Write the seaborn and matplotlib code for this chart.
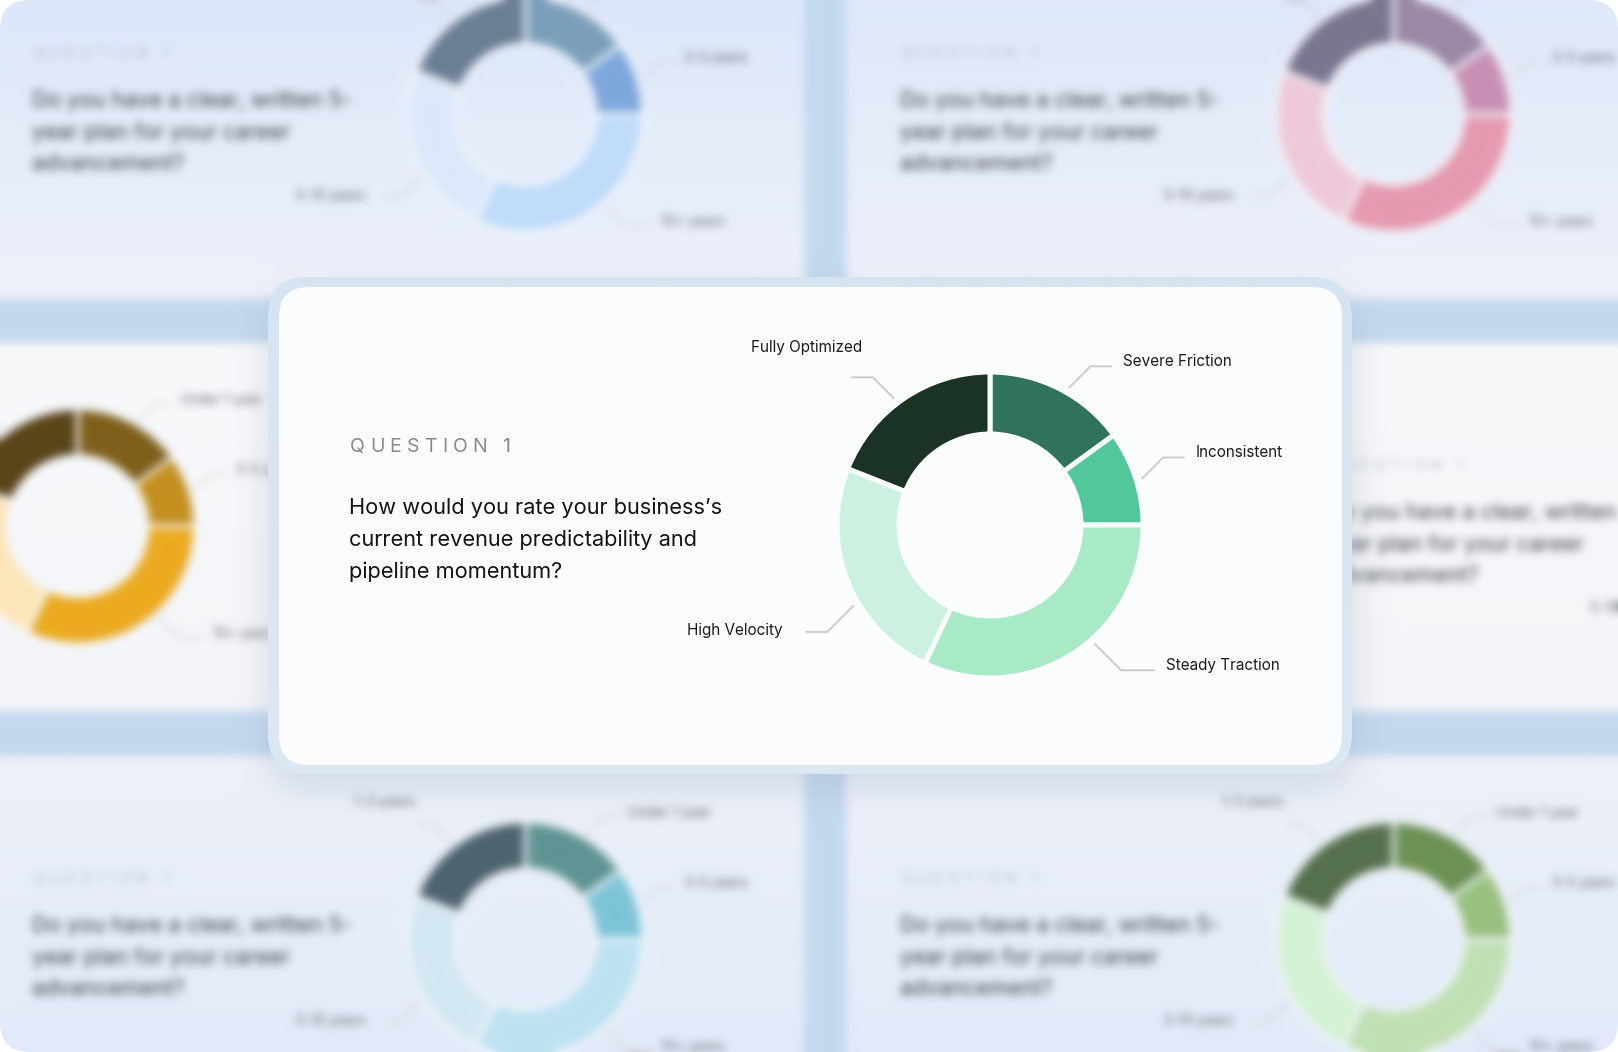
import numpy as np
import matplotlib
matplotlib.use("Agg")
import matplotlib.pyplot as plt
from matplotlib.patches import FancyBboxPatch
import seaborn as sns

W, H = 1618, 1052

# front card
segments = ["Severe Friction", "Inconsistent", "Steady Traction", "High Velocity", "Fully Optimized"]
shares = [15, 10, 32, 24, 19]
greens = ["#31735a", "#52c79a", "#a8eac5", "#ccf1e0", "#1a3324"]
tag = "QUESTION 1"
question = ["How would you rate your business\u2019s",
            "current revenue predictability and",
            "pipeline momentum?"]

# blurred cards behind it
tile_segments = ["Under 1 year", "3-5 years", "10+ years", "5-10 years", "1-3 years"]
tile_shares = [15, 10, 32, 24, 19]
tile_question = ["Do you have a clear, written 5-", "year plan for your career", "advancement?"]
blues = ["#7b9fbb", "#7ea7dc", "#c0dcf9", "#dce9fa", "#6a7f95"]
pinks = ["#9b88a6", "#c88fb5", "#e59ab0", "#eec9d9", "#7a7590"]
golds = ["#7f5f1a", "#c48f1e", "#ebaa20", "#fde6b8", "#5a4418"]
teals = ["#5f9494", "#7ec4d8", "#bde2f2", "#d3e8f3", "#4d6370"]
sages = ["#6c9155", "#98c07f", "#c0e0b5", "#d4f2d4", "#55704d"]

sns.set_theme(style="white")
plt.rcParams["font.family"] = ["Inter", "DejaVu Sans"]

CARD_W, CARD_H = 1063, 478
nudge = [-3, -1, 9, 9, 3]   # small shifts of leader anchors (deg)


def fy(y):
    return H - y


def blur(a, sigma):
    r = int(3 * sigma)
    k = np.exp(-np.arange(-r, r + 1) ** 2 / (2.0 * sigma ** 2))
    k /= k.sum()
    pw = [(r, r), (r, r)] + [(0, 0)] * (a.ndim - 2)
    p = np.pad(a, pw, mode="edge")
    h = sum(k[i] * p[:, i:i + a.shape[1]] for i in range(2 * r + 1))
    return sum(k[i] * h[i:i + a.shape[0]] for i in range(2 * r + 1))


def round_mask(x0, y0, x1, y1, r):
    yy, xx = np.mgrid[0:H, 0:W]
    dx = np.maximum(np.maximum(x0 + r - xx, xx - (x1 - r)), 0)
    dy = np.maximum(np.maximum(y0 + r - yy, yy - (y1 - r)), 0)
    inside = (xx >= x0) & (xx <= x1) & (yy >= y0) & (yy <= y1)
    return (inside & (dx ** 2 + dy ** 2 <= r ** 2)).astype(float)


def spaced_text(ax, x, y, s, size, color, track):
    rend = ax.figure.canvas.get_renderer()
    for ch in s:
        if ch == " ":
            x += size * 0.35 + track
            continue
        t = ax.text(x, fy(y), ch, fontsize=size, color=color, va="center", ha="left", zorder=3)
        x += t.get_window_extent(renderer=rend).width + track


def gradient_box(ax, x, y, w, h, top, bottom, rad, z=0.5):
    patch = FancyBboxPatch((x, fy(y + h)), w, h, boxstyle=f"round,pad=0,rounding_size={rad}",
                           fc="none", ec="none", zorder=z)
    ax.add_patch(patch)
    grad = np.array(sns.blend_palette([top, bottom], n_colors=64))[:, None, :]
    im = ax.imshow(grad, extent=(x, x + w, fy(y + h), fy(y)), aspect="auto",
                   interpolation="bilinear", zorder=z)
    im.set_clip_path(patch)


def draw_card(ax, ox, oy, s, values, colors, labels, lines, qcol, tcol, lcol, gap,
              qsize, qstep, lsize, tsize, track):
    spaced_text(ax, ox + 71 * s, oy + 160 * s, tag, tsize * s, tcol, track * s)
    for i, line in enumerate(lines):
        ax.text(ox + 70 * s, fy(oy + 221 * s + qstep * i * s), line, fontsize=qsize * s,
                color=qcol, va="center", ha="left", zorder=3)
    cx, cy = ox + 711 * s, fy(oy + 238 * s)
    R = 153 * s
    wedges, _ = ax.pie(values, colors=colors, radius=R, center=(cx, cy), startangle=90,
                       counterclock=False, frame=True,
                       wedgeprops=dict(width=62 * s, edgecolor=gap, linewidth=3.6 * s, zorder=3))
    for w, lab, dn in zip(wedges, labels, nudge):
        ang = np.deg2rad((w.theta1 + w.theta2) / 2 + dn)
        c, sn = np.cos(ang), np.sin(ang)
        x0, y0 = cx + (R + 6 * s) * c, cy + (R + 6 * s) * sn
        sx, sy = np.sign(c), np.sign(sn)
        diag = 21 if sy > 0 else 26
        run = 33 if (sx > 0 and sy < 0) else 21
        x1, y1 = x0 + diag * s * sx, y0 + diag * s * sy
        x2 = x1 + run * s * sx
        ax.plot([x0, x1, x2], [y0, y1, y1], color="#c9cbcd", lw=1.4 * s,
                solid_joinstyle="miter", zorder=3)
        if sx < 0 and sy > 0:
            ax.text(x2 - 45 * s, y1 + 30 * s, lab, fontsize=lsize * s, color=lcol,
                    ha="center", va="center", zorder=3)
        elif sx > 0:
            ax.text(x2 + 12 * s, y1 + 5 * s, lab, fontsize=lsize * s, color=lcol,
                    ha="left", va="center", zorder=3)
        else:
            ax.text(x2 - 24 * s, y1 + 1 * s, lab, fontsize=lsize * s, color=lcol,
                    ha="right", va="center", zorder=3)


def full_axes(fig):
    ax = fig.add_axes([0, 0, 1, 1])
    ax.set_axis_off()
    return ax


# ---- background layer, blurred afterwards ----
fig_bg = plt.figure(figsize=(W / 100, H / 100), dpi=100, facecolor="#c3d9ee")
axb = full_axes(fig_bg)
ts = 0.77
tw, th = CARD_W * ts + 8, CARD_H * ts
tiles = [
    (-22, -69, blues, "#dae5fb", "#eef2fa"),
    (846, -69, pinks, "#dce6fb", "#eef2fa"),
    (-470, 343, golds, "#f8fafc", "#f4f6f9"),
    (401, 343, blues, "#f8fafc", "#f4f6f9"),
    (1272, 343, teals, "#f8fafc", "#f4f6f9"),
    (-22, 756, teals, "#eef2f9", "#e0e9fb"),
    (846, 756, sages, "#eef2f9", "#e0e9fb"),
]
for ox, oy, pal, top, bottom in tiles:
    gradient_box(axb, ox, oy, tw, th, top, bottom, 26)
    draw_card(axb, ox, oy, ts, tile_shares, sns.color_palette(pal), tile_segments,
              tile_question, "#30343c", "#b4b9c2", "#555962", "#f4f7fc",
              20.5, 41, 13, 14, 7)
axb.set_xlim(0, W)
axb.set_ylim(0, H)
fig_bg.canvas.draw()
img = np.asarray(fig_bg.canvas.buffer_rgba())[:, :, :3].astype(float) / 255.0
plt.close(fig_bg)

img = blur(img, 4.5)
shadow = blur(round_mask(262, 290, 1358, 792, 40), 16)[..., None]
img = img * (1 - 0.22 * shadow) + 0.22 * shadow * np.array([0.55, 0.6, 0.68])

# ---- final figure ----
fig = plt.figure(figsize=(W / 100, H / 100), dpi=100, facecolor="white")
ax = full_axes(fig)
frame = FancyBboxPatch((0, 0), W, H, boxstyle="round,pad=0,rounding_size=30",
                       fc="none", ec="none")
ax.add_patch(frame)
bg = ax.imshow(np.clip(img, 0, 1), extent=(0, W, 0, H), aspect="auto", zorder=0)
bg.set_clip_path(frame)

# front card
gradient_box(ax, 268, 277, 1084, 497, "#d6e4f1", "#dce8f3", 40, z=1)
ax.add_patch(FancyBboxPatch((279, fy(765)), 1063, 478, boxstyle="round,pad=0,rounding_size=30",
                            fc="#fbfcfe", ec="none", zorder=1.5))
draw_card(ax, 279, 287, 1.0, shares, sns.color_palette(greens), segments, question,
          "#141414", "#8a8a8a", "#1c1c1c", "#fbfcfe", 15.7, 32, 11, 14, 5.2)

ax.set_xlim(0, W)
ax.set_ylim(0, H)
fig.savefig("out.png", dpi=100, facecolor="white")
